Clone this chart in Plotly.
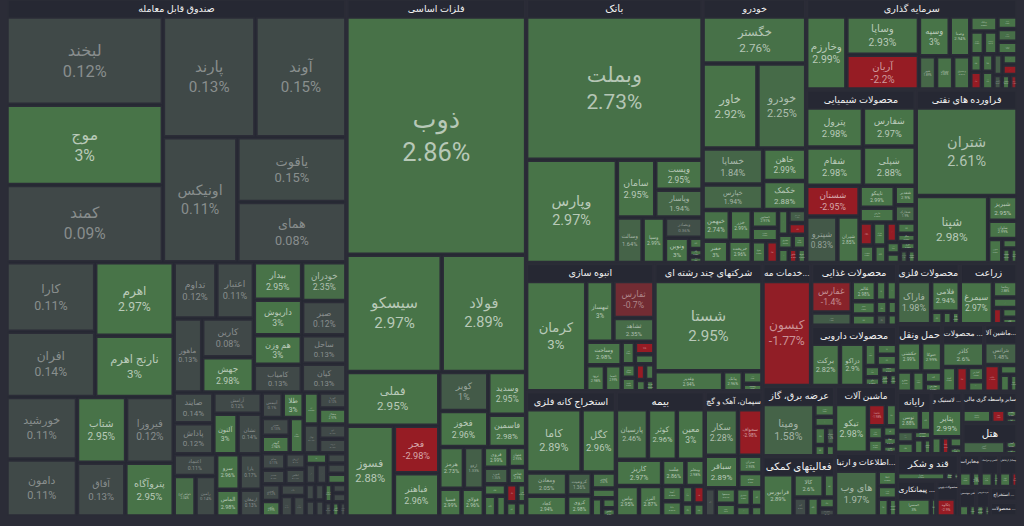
import math
import plotly.graph_objects as go

# --- sectors (market map of Tehran stock exchange) ---
sector_labels = [
    "صندوق قابل معامله", "فلزات اساسی", "بانک", "خودرو", "سرمایه گذاری",
    "محصولات شیمیایی", "فراورده های نفتی", "انبوه سازی", "شرکتهای چند رشته ای",
    "خدمات مه...", "استخراج کانه فلزی", "بیمه", "سیمان، آهک و گچ",
    "محصولات غذایی", "محصولات دارویی", "عرضه برق، گاز", "فعالیتهای کمکی",
    "ماشین آلات", "اطلاعات و ارتبا...", "محصولات فلزی", "زراعت", "حمل ونقل",
    "محصولات ...", "ماشین آلا...", "رایانه", "لاستیک و ...",
    "سایر واسطه گری مالی", "هتل", "قند و شکر", "پیمانکاری ...", "محصولات چوبی",
    "مخابرات", "کاشی و سرامیک", "وسایل ارتباطی", "فنی مهندسی", "خرده فروشی",
    "استخراج ...", "محصولات ...",
]

fund_names = ["لبخند", "پارند", "آوند", "موج", "کمند", "اونیکس", "یاقوت", "همای",
              "کارا", "افران", "اهرم", "نارنج اهرم", "خورشید", "شتاب", "فیروزا",
              "دامون", "آفاق", "پتروآگاه",
              "تداوم", "اعتبار", "ماهور", "جهش", "بیدار", "صبر", "کارین", "داریوش",
              "خودران", "هم وزن", "ساحل", "کامیاب", "صایند",
              "کیان", "پاداش", "آلتون", "آرامش", "نشان", "اعتماد", "رامین", "یارا",
              "جواهر اوج", "سرو", "الماس", "ارمغان",
              "آتیمس", "طلا", "سپر", "گوهر", "عیار", "زر", "کهربا", "مثقال", "نهال",
              "گنج", "ثروت", "سام", "تصمیم", "ارزش", "اطلس", "ثمین", "رابین", "نخل",
              "ویستا", "دارا", "رویین", "طلوع", "اکسیژن", "بذر", "آسامید", "سیناد",
              "آرمان", "تابان", "پادا", "افق", "ارغوان", "آذرین", "سپیدار", "کاج",
              "آگاس", "لوتوس"]
fund_values = [141, 114, 112, 128, 123, 95, 72, 67,
               63, 59, 59, 49, 45, 33, 32, 41, 26.5, 26.5,
               24.5, 21.5, 21.5, 18.5, 18.5, 15.5, 20.5, 17.5,
               17.5, 14.5, 13, 13.5, 12.5,
               13, 12.5, 10, 10.5, 10, 9.5, 8.5, 8,
               9, 8.5, 6.5, 6,
               5.5, 5.5, 5, 5, 5, 5, 4.5, 4.5, 4.5,
               4, 4, 4, 3.5, 3.2, 3.2, 3.2, 3, 3,
               2.6, 2.6, 2.4, 2.2, 2.2, 2, 2, 2,
               1.6, 1.6, 1.6, 1.5, 1.5, 1.3, 1.3, 1.1,
               1.1, 1]
fund_changes = [0.12, 0.13, 0.15, 3, 0.09, 0.11, 0.15, 0.08,
                0.11, 0.14, 2.97, 3, 0.11, 2.95, 0.12, 0.11, 0.13, 2.95,
                0.12, 0.11, 0.13, 2.98, 2.95, 0.12, 0.08, 3,
                2.35, 3, 0.13, 0.13, 0.14,
                0.13, 0.12, 3, 0.12, 0.14, 0.11, 0.14, 0.17,
                2.34, 2.96, 2.98, 0.13,
                0.1, 3, 0.13, 2.94, 2.98, 2.96, 0.12, 2.97, 0.14,
                0.12, 0.13, 0.11, 0.12, 0.1, 0.14, 0.12, 2.99, 0.13,
                0.11, 0.12, 2.9, 0.13, 0.1, 0.12, 0.11, 2.95,
                0.12, 0.13, 0.1, 0.12, 2.97, 0.11, 0.13, 0.12,
                2.96, 0.1]

metal_names = ["ذوب", "سیسکو", "فولاد", "فملی", "فسوز", "فجر", "فباهنر", "کویر",
               "فخوز", "وسدید", "فاسمین", "هرمز", "ارفع", "فسپا", "فولای", "فروی",
               "فنورد", "فجهان", "فخاس", "فنوال", "فگستر", "فایرا", "فرآور", "فزر",
               "فغدیر", "فالوم"]
metal_values = [437, 114, 101, 51, 44, 22, 20, 19.5,
                18, 16.5, 12.5, 10.5, 8.5, 6.3, 6.3, 5.2,
                4.2, 3.6, 3.1, 2.6, 2.6, 2.1, 2.1, 1.6,
                1.6, 1.3]
metal_changes = [2.86, 2.97, 2.89, 2.95, 2.88, -2.98, 2.96, 1,
                 2.96, 2.95, 2.98, 2.73, 1.33, 2.99, 2.96, 2.99,
                 1.36, 2.95, 2.9, 2.98, 2.97, 2.96, -2.5, 2.94,
                 2.99, 2.95]

bank_names = ["وبملت", "وپارس", "سامان", "وپست", "وپاسار", "وسالت", "وسپا",
              "وبصادر", "ونوین", "وتجارت", "وکار", "وخاور"]
bank_values = [267, 99, 23.5, 15, 14, 12.3, 10.7, 8, 6.4, 1.6, 1.1, 0.9]
bank_changes = [2.73, 2.97, 2.95, 2.95, 1.94, 1.64, 2.99, 0.36, 3, 2.97, 2.98, 2.9]

auto_names = ["خگستر", "خاور", "خودرو", "خساپا", "خپارس", "خاهن", "خکمک",
              "خبهمن", "خزر", "خفنر", "خریخت", "خمحور", "خکاوه", "خفولا",
              "خرینگ", "خموتور", "خچرخش", "خمهر", "خشرق", "خلنت", "خعمرا",
              "ختور", "ختوقا"]
auto_values = [51.5, 49.3, 43.8, 23, 16.4, 14.8, 13.2, 8.8, 7.1, 6, 5.5, 4.9,
               3.8, 3.3, 2.7, 2.7, 2.4, 2.2, 2.2, 2, 1.6, 1.3, 1.3]
auto_changes = [2.76, 2.92, 2.25, 1.84, 1.94, 2.99, 2.88, 2.74, 2.99, 3, 2.96,
                2.91, 2.96, 2.99, -2.98, 2.95, 1.15, -1.98, 2.97, 2.94, 2.98,
                -2.5, 2.93]

invest_names = ["وخارزم", "وساپا", "آریان", "وسپه", "وصنا", "شهر", "وبوعلی",
                "وصندوق", "وبانک", "وپترو", "وتوسم", "وسینا", "وامید", "وسکاب",
                "وپویا", "وتوصا", "ونیرو", "واتی", "وبهمن", "وآتوس", "وسبحان",
                "وگستر", "وکبهمن", "وثنو"]
invest_values = [36, 34, 31, 15, 10, 7, 7, 7, 5, 3.8, 3.8, 3.1, 3.1, 3.1,
                 2.5, 2.5, 2.5, 2.5, 2.3, 1.9, 1.9, 1.5, 1.5, 1.3]
invest_changes = [2.99, 2.93, -2.2, 3, 2.94, 1.89, 2.83, 2.67, 2.85, 2.93, 2.91,
                  2.96, 2.47, 2.9, 2.98, 2.95, -2.9, 2.94, 1.2, 2.95, -2.98,
                  0.5, 2.94, -1.5]

chem_names = ["پترول", "شفام", "شفارس", "شپلی", "شستان", "شپترو", "شیران",
              "تاپیکو", "فارس", "شغدیر", "شخارک", "شکلر", "شاراک", "شصدف",
              "شسپا", "شکربن", "زاگرس", "شگل", "شبصیر", "شاملا", "نوری",
              "شپدیس", "شسینا"]
chem_values = [25, 23.8, 22.7, 22.7, 18.1, 15.9, 11.3, 8.5, 5.7, 4.5, 4, 3.4,
               3.4, 2.8, 2.3, 2.3, 2.3, 1.7, 1.7, 1.4, 1.4, 1.1, 1.1]
chem_changes = [2.98, 2.98, 2.97, 2.88, -2.95, 0.83, 2.85, 2.99, 2.96, 2.9,
                1.9, -1.86, 2.98, 2.95, 2.94, -2.9, 2.96, 2.95, 2.97, 2.9,
                2.98, 1.4, 2.88]

oil_names = ["شتران", "شپنا", "شبریز", "شاوان", "شبهرن", "شرانل", "شنفت", "شپاس"]
oil_values = [99, 53.3, 8, 5.9, 3.7, 1.6, 1.3, 1.1]
oil_changes = [2.61, 2.98, 2.95, 2.99, 2.99, 2.95, 2.94, 2.9]

build_names = ["کرمان", "ثبهساز", "ثفارس", "ثشاهد", "وساخت", "ثرود", "ثاصفا",
               "ثامان", "ثنوسا", "ثعمرا", "ثمسکن", "ثاخت", "ثجنوب", "ثتران",
               "ثنظام", "ثغرب"]
build_values = [76, 19, 17.4, 11.2, 9.5, 5.6, 5, 3.4, 2.8, 2.2, 2.2, 2.2,
                1.7, 1.7, 1.3, 1.1]
build_changes = [3, 3, -0.7, 2.35, 2.98, 2.98, 2.99, 2.95, -2.9, 2.96, 2.98,
                 2.92, -2.5, 2.97, 2.9, 2.95]

multi_names = ["شستا", "وغدیر", "پیانک", "ومدیر", "وصنعت"]
multi_values = [112, 15.7, 4.5, 2.8, 1.7]
multi_changes = [2.95, 2.94, 2.96, 2.95, 2.9]

eng_names = ["کیسون"]
eng_values = [59]
eng_changes = [-1.77]

mine_names = ["کاما", "کگل", "ومعادن", "کچاد", "کرومیت", "کروی", "کپشیر",
              "کسرا", "کمنگنز", "کخاک", "کبافق"]
mine_values = [40.3, 25, 10.9, 9.8, 6.5, 6, 4.4, 2.7, 2.2, 1.6, 1.3]
mine_changes = [2.89, 2.96, 2.05, 2.94, 1.36, 2.98, 2.67, 2.9, 2.95, 2.97, 2.9]

insur_names = ["پارسیان", "کوثر", "معین", "کاریز", "بپاس", "البرز", "ملت",
               "ومعلم", "آسیا", "دانا", "تعاون", "بکاب", "حافظ", "ما"]
insur_values = [18.6, 16.8, 16.2, 13.9, 8.1, 8.1, 7, 5.8, 3.5, 3.5, 2.3, 2.3,
                1.7, 1.7]
insur_changes = [2.46, 2.96, 3, 2.97, 2.95, 2.87, 2.86, 2.98, 2.95, 2.97, 2.9,
                 -2.98, 2.94, 2.96]

cement_names = ["سکار", "سخواف", "سباقر", "ستران", "سفانو", "ساوه", "سصفها",
                "سیلام", "سشرق", "سبجنو", "سشمال", "سدور"]
cement_values = [17.8, 13.1, 12.5, 4.8, 4.2, 3.6, 3.6, 3, 3, 2.4, 1.8, 1.4]
cement_changes = [2.28, -2.98, 2.89, 2.95, 2.9, 0.1, 2.94, 2.97, 2.96, 2.9,
                  2.88, 2.95]

food_names = ["غفارس", "غشاذر", "غالبر", "غمینو", "غبهنوش", "غگل", "غصینو",
              "غزر", "غپاک", "غسالم", "غکورش"]
food_values = [17.7, 7.4, 6.8, 4.4, 3.7, 2.9, 2.9, 2.2, 1.8, 1.8, 1.5]
food_changes = [-1.4, 1.08, 2.98, 2.96, 2.95, 2.9, 2.97, 2.94, 2.9, 0.5, 2.96]

pharma_names = ["برکت", "دزاکو", "دتماد", "دفارا", "دسینا", "دجابر", "دلر",
                "دعبید", "دکوثر", "دالبر"]
pharma_values = [17.1, 14.6, 3.8, 3.2, 3.2, 2.5, 1.9, 1.9, 1.5, 1.3]
pharma_changes = [2.82, 2.9, 2.95, 2.9, 2.97, 2.96, 2.98, 2.94, 2.9, 2.95]

power_names = ["ومپنا", "بزاگرس", "بکهنوج", "بپیوند", "بمولد", "بسویچ", "بفجر"]
power_values = [36, 3.5, 2.8, 2.8, 2.1, 1.7, 1.4]
power_changes = [1.58, 2.93, 2.95, 2.9, 1.2, 2.96, 2.98]

support_names = ["فرابورس", "کالا", "امین", "آپ", "اوان", "نبورس", "سپرده"]
support_values = [18.4, 9.8, 3.7, 3.7, 3.1, 2.5, 1.8]
support_changes = [2.89, 2.6, 2.95, 0.2, 2.9, 2.97, 0.1]

machine_names = ["تیکو", "تکشا", "تپمپی", "تایرا", "تمحرکه", "تشونیز", "تجلا", "تفیرو"]
machine_values = [21.7, 5.4, 3.4, 2.7, 2.7, 2, 1.6, 1.4]
machine_changes = [2.98, -1.98, 2.95, 2.9, 2.96, 2.88, 2.97, 2.94]

it_names = ["های وب", "اعتلا", "همراه", "ارتباط", "آسیاتک"]
it_values = [26.8, 4, 3.4, 2.7, 2]
it_changes = [1.97, 2.96, 2.9, 2.95, 2.98]

metalprod_names = ["فاراک", "فلامی", "فنفت", "فمراد", "فاما"]
metalprod_values = [20.6, 12.3, 2, 1.6, 1.4]
metalprod_changes = [1.98, 2.94, 2.9, 2.96, 2.95]

farm_names = ["سیمرغ", "زمگسا", "زکوثر", "زقیام", "زشریف", "زملارد"]
farm_values = [20, 5.7, 3.6, 2.1, 2.1, 1.4]
farm_changes = [2.97, 2.88, 2.95, -2.9, 2.94, 2.9]

transport_names = ["حکشتی", "حتوکا", "حپترو", "حسینا", "حآفرین", "حفارس"]
transport_values = [9.5, 8.2, 4.1, 3.4, 2.7, 2]
transport_changes = [2.99, 2.99, 2.9, 2.96, 2.95, 2.98]

mineral_names = ["کاذر", "کساپا", "کرازی", "کفپارس", "کسعدی"]
mineral_values = [14, 4.7, 3.9, 3.1, 2.3]
mineral_changes = [2.6, 2.99, -2.9, 2.95, 2.9]

machine2_names = ["بترانس", "بکاب", "بالبر", "بنیرو", "بمپنا"]
machine2_values = [10.2, 5.6, 2.3, 2.3, 1.7]
machine2_changes = [1.48, -1.99, 2.95, 2.9, 2.97]

computer_names = ["توسن", "سپ", "مکسا", "رافزا", "سیستم", "پرداخت", "تاپکیش"]
computer_values = [6.7, 3.4, 2.7, 2.7, 2, 2, 1.6]
computer_changes = [2.88, 2.9, 1.4, 2.96, 2.95, 2.94, 2.9]

tire_names = ["پتایر", "پکرمان", "پاسا", "پکویر", "پدرخش"]
tire_values = [11.9, 2.4, 1.8, 1.8, 1.2]
tire_changes = [2.99, 2.96, -2.9, 2.95, 2.9]

finance_names = ["ولساپا", "ولکار", "ولصنم", "ولپارس"]
finance_values = [8.9, 4.4, 2.2, 1.5]
finance_changes = [2.94, -2.5, 2.95, 2.9]

hotel_names = ["گکیش", "گشان", "گتوس"]
hotel_values = [13.2, 2.2, 1.5]
hotel_changes = [1.88, 2.95, 2.9]

sugar_names = ["قپیرا", "قشکر", "قلرست"]
sugar_values = [12.5, 2.1, 1.4]
sugar_changes = [2.76, 2.9, 2.95]

contract_names = ["خمسرا", "ثشرق"]
contract_values = [12, 2]
contract_changes = [3, 2.9]

wood_names = ["چکاوه", "چفیبر"]
wood_values = [6.9, 1.1]
wood_changes = [-2.9, 2.9]

telecom_names = ["اخابر", "اپال"]
telecom_values = [4.2, 2.8]
telecom_changes = [2.96, 2.9]

ceramic_names = ["کسرام", "کساوه"]
ceramic_values = [4, 2]
ceramic_changes = [2.95, 2.9]

device_names = ["لپیام", "لخزر"]
device_values = [4, 2]
device_changes = [2.9, -2.9]

tech_names = ["فنی", "خفن"]
tech_values = [3, 2]
tech_changes = [2.9, 2.95]

retail_names = ["اتکام", "رکیش"]
retail_values = [2.4, 1.6]
retail_changes = [2.9, 2.96]

coal_names = ["کزغال", "کطبس"]
coal_values = [2.5, 1.5]
coal_changes = [2.95, 2.9]

paper_names = ["چکارن", "چافست"]
paper_values = [2.4, 1.6]
paper_changes = [2.9, 0.3]

sector_stocks = [
    (fund_names, fund_values, fund_changes),
    (metal_names, metal_values, metal_changes),
    (bank_names, bank_values, bank_changes),
    (auto_names, auto_values, auto_changes),
    (invest_names, invest_values, invest_changes),
    (chem_names, chem_values, chem_changes),
    (oil_names, oil_values, oil_changes),
    (build_names, build_values, build_changes),
    (multi_names, multi_values, multi_changes),
    (eng_names, eng_values, eng_changes),
    (mine_names, mine_values, mine_changes),
    (insur_names, insur_values, insur_changes),
    (cement_names, cement_values, cement_changes),
    (food_names, food_values, food_changes),
    (pharma_names, pharma_values, pharma_changes),
    (power_names, power_values, power_changes),
    (support_names, support_values, support_changes),
    (machine_names, machine_values, machine_changes),
    (it_names, it_values, it_changes),
    (metalprod_names, metalprod_values, metalprod_changes),
    (farm_names, farm_values, farm_changes),
    (transport_names, transport_values, transport_changes),
    (mineral_names, mineral_values, mineral_changes),
    (machine2_names, machine2_values, machine2_changes),
    (computer_names, computer_values, computer_changes),
    (tire_names, tire_values, tire_changes),
    (finance_names, finance_values, finance_changes),
    (hotel_names, hotel_values, hotel_changes),
    (sugar_names, sugar_values, sugar_changes),
    (contract_names, contract_values, contract_changes),
    (wood_names, wood_values, wood_changes),
    (telecom_names, telecom_values, telecom_changes),
    (ceramic_names, ceramic_values, ceramic_changes),
    (device_names, device_values, device_changes),
    (tech_names, tech_values, tech_changes),
    (retail_names, retail_values, retail_changes),
    (coal_names, coal_values, coal_changes),
    (paper_names, paper_values, paper_changes),
]

BG = "#2b2c37"
HEADER = "#262833"
HEAD_PAD = 18


def tile_color(change):
    gray = (63, 68, 72)
    if change >= 0:
        t = min(change / 3.0, 1.0) ** 0.7
        end = (72, 116, 72)
    else:
        t = min(-change / 2.0, 1.0) ** 0.5
        end = (150, 28, 36)
    return "rgb(%d,%d,%d)" % tuple(round(g + (e - g) * t) for g, e in zip(gray, end))


def text_color(change):
    base = tile_color(change)
    rgb = [int(v) for v in base[4:-1].split(",")]
    t = 0.37 + 0.25 * min(abs(change) / 3.0, 1.0)
    return "rgb(%d,%d,%d)" % tuple(round(v + (255 - v) * t) for v in rgb)


ids, labels, parents, values = [], [], [], []
colors, texts, templates, sizes, fcolors = [], [], [], [], []

for i, (sector, (names, vals, changes)) in enumerate(zip(sector_labels, sector_stocks)):
    sid = "s%d" % i
    ids.append(sid)
    labels.append(sector)
    parents.append("")
    values.append(0)
    colors.append(HEADER)
    texts.append("")
    templates.append("<b>%{label}</b>")
    sizes.append(12)
    fcolors.append("#f2f2f2")
    for name, v, c in zip(names, vals, changes):
        ids.append(sid + "/" + name)
        labels.append(name)
        parents.append(sid)
        values.append(v)
        colors.append(tile_color(c))
        texts.append("%g%%" % c)
        templates.append("%{label}<br>%{text}")
        sizes.append(min(26, 4.5 + math.sqrt(v)))
        fcolors.append(text_color(c))

fig = go.Figure(go.Treemap(
    ids=ids,
    labels=labels,
    parents=parents,
    values=values,
    text=texts,
    texttemplate=templates,
    textposition="middle center",
    textfont=dict(family="Roboto, DejaVu Sans", size=sizes, color=fcolors),
    marker=dict(colors=colors, line=dict(width=1.5, color=BG),
                pad=dict(t=HEAD_PAD, l=0, r=0, b=0)),
    root_color=BG,
    pathbar=dict(visible=False),
    tiling=dict(packing="binary"),
    sort=True,
    hoverinfo="label+text",
))

fig.update_layout(
    width=1024,
    height=526 + HEAD_PAD,
    margin=dict(l=8, r=8, t=0, b=11),
    paper_bgcolor=BG,
    plot_bgcolor=BG,
    font=dict(family="Roboto, DejaVu Sans"),
)

# the hidden root of the treemap keeps an empty header band; lift the page by it
shift = ("document.body.style.margin='0';"
         "document.body.style.background='%s';"
         "document.getElementById('{plot_id}').style.marginTop='-%dpx';" % (BG, HEAD_PAD))
fig.write_html("out.html", post_script=shift, config={"displayModeBar": False})
